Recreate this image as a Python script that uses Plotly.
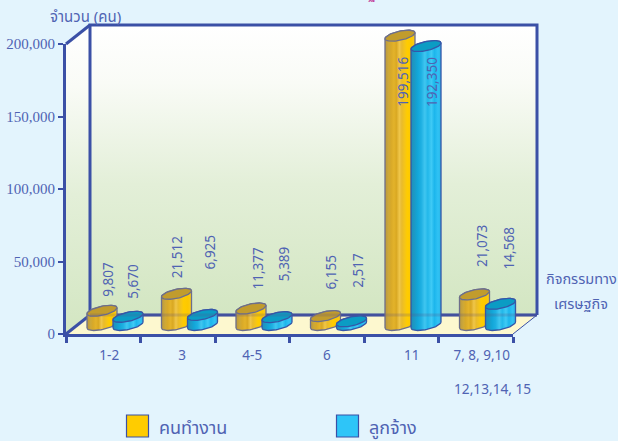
import numpy as np
import plotly.graph_objects as go

categories = ["1-2", "3", "4-5", "6", "11", "7, 8, 9,10"]
workers = [9807, 21512, 11377, 6155, 199516, 21073]
employees = [5670, 6925, 5389, 2517, 192350, 14568]
y_ticks = [0, 50000, 100000, 150000, 200000]
y_labels = ["0", "50,000", "100,000", "150,000", "200,000"]
worker_label_lift = [31, 37, 40, 44, -46, 48]
employee_label_lift = [35, 63, 53, 51, -36, 56]
worker_label_side = [6, 0, 6, 6, 3, 8]
employee_label_side = [5, 7, 7, 7, 6, 8]
tick_label_shift = [0.08, 0.06, 0.0, 0.0, 0.14, 0.08]

W, H = 618, 441
X0, X1, Y0, Y1 = 66, 513, 334, 44
PXX = (X1 - X0) / 6
PXY = (Y0 - Y1) / 200000
DX, DY = 24, 19
INK = "#3b50a6"
TXT = "#4f63b3"
THAI = "Noto Sans, Noto Sans Thai, Loma, Garuda, sans-serif"
NUM = "Noto Sans"


def xd(px):
    return (np.asarray(px, float) - X0) / PXX


def yd(py):
    return (Y0 - np.asarray(py, float)) / PXY


GOLD = [[0, "#b9983f"], [0.12, "#cda838"], [0.2, "#d8a928"], [0.3, "#e3b32a"], [0.38, "#d9a822"],
        [0.48, "#efc64a"], [0.56, "#e9bb2c"], [0.66, "#f5c518"], [0.74, "#ffcc00"], [0.88, "#fdc800"], [1, "#f8cc20"]]
BLUE = [[0, "#1f8fb9"], [0.12, "#1c9ac6"], [0.22, "#12a6d8"], [0.34, "#1eb0e2"], [0.46, "#40c6f0"],
        [0.56, "#22b8ea"], [0.68, "#3fcaf5"], [0.78, "#1cb6ec"], [0.9, "#30c2f4"], [1, "#2ab6e6"]]

fig = go.Figure()


def poly(px, py, **kw):
    fig.add_trace(go.Scatter(x=xd(px), y=yd(py), mode="lines", cliponaxis=False,
                             showlegend=False, hoverinfo="skip", **kw))


WALL = [[0, "#d3e6c2"], [0.45, "#e3efd8"], [0.8, "#f9fbf6"], [1, "#ffffff"]]
NOLINE = dict(width=0, color="rgba(0,0,0,0)")
poly([X0, X0 + DX, X0 + DX, X0, X0], [Y1, Y1 - DY, Y0 - DY, Y0, Y1], fill="toself", line=NOLINE,
     fillgradient=dict(type="vertical", colorscale=WALL))
poly([X0 + DX, X1 + DX, X1 + DX, X0 + DX, X0 + DX], [Y1 - DY, Y1 - DY, Y0 - DY, Y0 - DY, Y1 - DY],
     fill="toself", line=NOLINE, fillgradient=dict(type="vertical", colorscale=WALL))
poly([X0, X0 + DX, X1 + DX, X1, X0], [Y0, Y0 - DY, Y0 - DY, Y0, Y0],
     fill="toself", fillcolor="#fdf8cf", line=NOLINE)
poly([X0, X0 + DX], [Y1, Y1 - DY], line=dict(color=INK, width=3))
poly([X0, X0 + DX], [Y0, Y0 - DY], line=dict(color=INK, width=3))
poly([X0 + DX, X0 + DX, X1 + DX, X1 + DX], [Y0 - DY, Y1 - DY, Y1 - DY, Y0 - DY], line=dict(color=INK, width=3))
poly([X0 + DX, X1 + DX], [Y0 - DY, Y0 - DY], line=dict(color=INK, width=3))
poly([X1 + DX, X1], [Y0 - DY, Y0], line=dict(color=INK, width=1))

A, B, S = 15.0, 4.6, 0.2
BASE_PY = 325
t_low = np.linspace(np.pi, 2 * np.pi, 30)
t_up = np.linspace(0, np.pi, 30)
t_all = np.linspace(0, 2 * np.pi, 60)


def ell(cx, cy, t):
    return cx + A * np.cos(t), cy - S * A * np.cos(t) - B * np.sin(t)


def cylinder(i, value, centre, scale, cap, edge):
    cx = X0 + i * PXX + centre
    top = BASE_PY - value * PXY
    bx, by = ell(cx, BASE_PY, t_low)
    tx, ty = ell(cx, top, t_up)
    poly(np.r_[bx, tx, bx[0]], np.r_[by, ty, by[0]], fill="toself",
         fillgradient=dict(type="horizontal", colorscale=scale), line=dict(color=edge, width=1.3))
    ex, ey = ell(cx, top, t_all)
    poly(ex, ey, fill="toself", fillcolor=cap, line=dict(color=edge, width=1.3))
    return cx, top


notes = []
for i in range(len(categories)):
    cx, top = cylinder(i, workers[i], 36, GOLD, "#c19c2d", "#6d6f8c")
    notes.append((cx + worker_label_side[i], top - worker_label_lift[i], workers[i]))
    cx, top = cylinder(i, employees[i], 62, BLUE, "#0b9cc4", "#3557a8")
    notes.append((cx + employee_label_side[i], top - employee_label_lift[i], employees[i]))

# rear floor edge showing faintly through the columns
poly([X0 + DX, X1 + DX], [Y0 - DY, Y0 - DY], line=dict(color="rgba(90,80,130,0.22)", width=3))

# legend swatches and the visible axes' own (empty) trace
fig.add_trace(go.Scatter(x=xd([137.5, 347.5]), y=yd([426, 426]), mode="markers", cliponaxis=False,
                         showlegend=False, hoverinfo="skip",
                         marker=dict(symbol="square", size=22, color=["#ffcc00", "#2ec5f8"],
                                     line=dict(color=INK, width=1.2))))
fig.add_trace(go.Scatter(x=[None], y=[None], xaxis="x2", yaxis="y2", showlegend=False, hoverinfo="skip"))

for px, py, v in notes:
    fig.add_annotation(x=float(xd(px)), y=float(yd(py)), text=f"{v:,}", textangle=-90, showarrow=False,
                       font=dict(family=NUM, size=13.5, color=TXT))


def free_text(px, py, text, size, xanchor="center", color=TXT, family=THAI):
    fig.add_annotation(xref="paper", yref="paper", x=px / W, y=1 - py / H,
                       text=text, showarrow=False, xanchor=xanchor, yanchor="middle",
                       font=dict(family=family, size=size, color=color))


free_text(85, 16, "จำนวน (คน)", 15)
free_text(581, 278, "กิจกรรมทาง", 14.5)
free_text(581, 303, "เศรษฐกิจ", 14.5)
free_text(492, 388, "12,13,14, 15", 13.7, family=NUM)
free_text(372, -7, "ฐ", 14, color="#c2449c")
free_text(157, 427, "คนทำงาน", 18, xanchor="left")
free_text(367, 427, "ลูกจ้าง", 18, xanchor="left")

fig.update_layout(
    width=W, height=H, margin=dict(l=0, r=0, t=0, b=0, autoexpand=False), showlegend=False,
    paper_bgcolor="#e3f4fd", plot_bgcolor="rgba(0,0,0,0)",
    xaxis=dict(domain=[0, 1], range=[float(xd(0)), float(xd(W))], visible=False),
    yaxis=dict(domain=[0, 1], range=[float(yd(H)), float(yd(0))], visible=False),
    xaxis2=dict(domain=[X0 / W, X1 / W], range=[0, 6], anchor="y2", showgrid=False, zeroline=False,
                showline=True, linecolor=INK, linewidth=3,
                tickmode="array", tickvals=[i + 0.5 + s for i, s in enumerate(tick_label_shift)],
                ticktext=categories, ticks="outside", ticklen=7, tickcolor="rgba(0,0,0,0)",
                tickfont=dict(family=NUM, size=13.5, color=TXT),
                minor=dict(tickmode="array", tickvals=list(range(7)), ticks="outside", ticklen=6,
                           tickwidth=2.5, tickcolor=INK)),
    yaxis2=dict(domain=[(H - Y0) / H, (H - Y1) / H], range=[0, 200000], anchor="x2", showgrid=False,
                zeroline=False, showline=True, linecolor=INK, linewidth=3,
                tickmode="array", tickvals=y_ticks, ticktext=y_labels, ticks="outside", ticklen=5,
                tickwidth=1.5, tickcolor=INK, tickfont=dict(family="Liberation Serif", size=15, color=TXT)),
)
fig.write_html("out.html", config=dict(displayModeBar=False),
               post_script="document.body.style.margin='0';document.body.style.overflow='hidden';")
